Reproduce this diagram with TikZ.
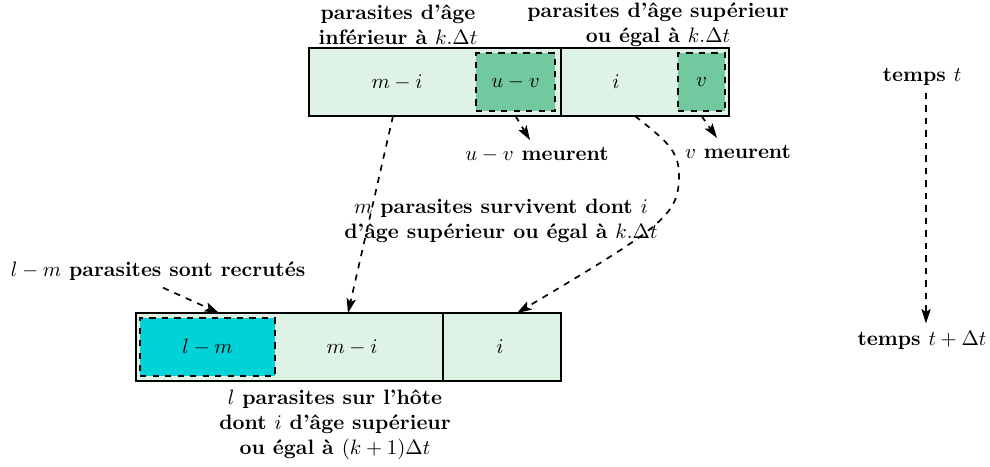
\documentclass[tikz,border=0pt]{standalone}
\usepackage{tikz}
\usetikzlibrary{arrows.meta,calc}
\definecolor{cellpale}{HTML}{DEF2E6}
\definecolor{celldie}{HTML}{72C9A0}
\definecolor{cellnew}{HTML}{00D3D8}

\begin{document}
\begin{tikzpicture}[
  x=0.48pt, y=-0.48pt,
  cell/.style={draw, line width=1pt, fill=cellpale, minimum height=32.64pt,
               inner sep=0pt, outer sep=0pt},
  sub/.style={draw, dashed, thick, minimum height=27.84pt, inner sep=0pt, outer sep=0pt},
  lbl/.style={font=\bfseries, align=center},
  arrow/.style={-{Stealth[length=7pt,width=4.5pt,inset=1.5pt]}, dashed, thick}
]
\useasboundingbox (0,0) rectangle (990,467);

% population at time t
\node[cell, minimum width=120.96pt] (topold) at (435,82) {};
\node[cell, minimum width=80.64pt] (topyoung) at (645,82) {};
\node[sub, fill=celldie, minimum width=37.92pt] (uv) at (515.5,82) {$u-v$};
\node[sub, fill=celldie, minimum width=22.56pt] (v) at (701.5,82) {$v$};
\node (topmi) at (397,82) {$m-i$};
\node (topi) at (616,82) {$i$};

\node[lbl] (oldlbl) at (398,25) {parasites d'âge\\inférieur à $k.\Delta t$};
\node[lbl] (younglbl) at (658,25) {parasites d'âge supérieur\\ou égal à $k.\Delta t$};

% population at time t+dt
\node[cell, minimum width=147.36pt] (botold) at (289.5,347) {};
\node[cell, minimum width=56.64pt] (botyoung) at (502,347) {};
\node[sub, fill=cellnew, minimum width=64.8pt] (lm) at (207.5,347) {$l-m$};
\node (botmi) at (352,347) {$m-i$};
\node (boti) at (500,347) {$i$};

\node[lbl] (uvdie) at (537,155) {$u-v$ meurent};
\node[lbl] (vdie) at (738,152) {$v$ meurent};
\node[lbl] (survive) at (501,221)
  {$m$ parasites survivent dont $i$\\d'âge supérieur ou égal à $k.\Delta t$};
\node[lbl] (recrut) at (158,271) {$l-m$ parasites sont recrutés};
\node[lbl] (host) at (335,425)
  {$l$ parasites sur l'hôte\\dont $i$ d'âge supérieur\\ou égal à $(k+1)\Delta t$};

\node[lbl] (tnow) at (922,77) {temps $t$};
\node[lbl] (tnext) at (922,340) {temps $t+\Delta t$};

\draw[arrow] (uv.south |- topold.south) -- ($(uvdie.north)+(-7,0)$);
\draw[arrow] (v.south |- topyoung.south) -- ($(vdie.north)+(-21,0)$);
\draw[arrow] ($(topmi |- topold.south)+(-4,0)$) -- ($(botmi |- botold.north)+(-4,0)$);
\draw[arrow] ($(topyoung.south)+(-10,0)$) .. controls (665,140) and (679,150) .. (679,175)
  .. controls (679,215) and (665,225) .. ($(botyoung.north)+(15,0)$);
\draw[arrow] ($(recrut.south)+(5,0)$) -- ($(botold.north west)+(83,0)$);
\draw[arrow] ($(tnow.south)+(4,0)$) -- ($(tnext.north)+(4,0)$);
\end{tikzpicture}
\end{document}
